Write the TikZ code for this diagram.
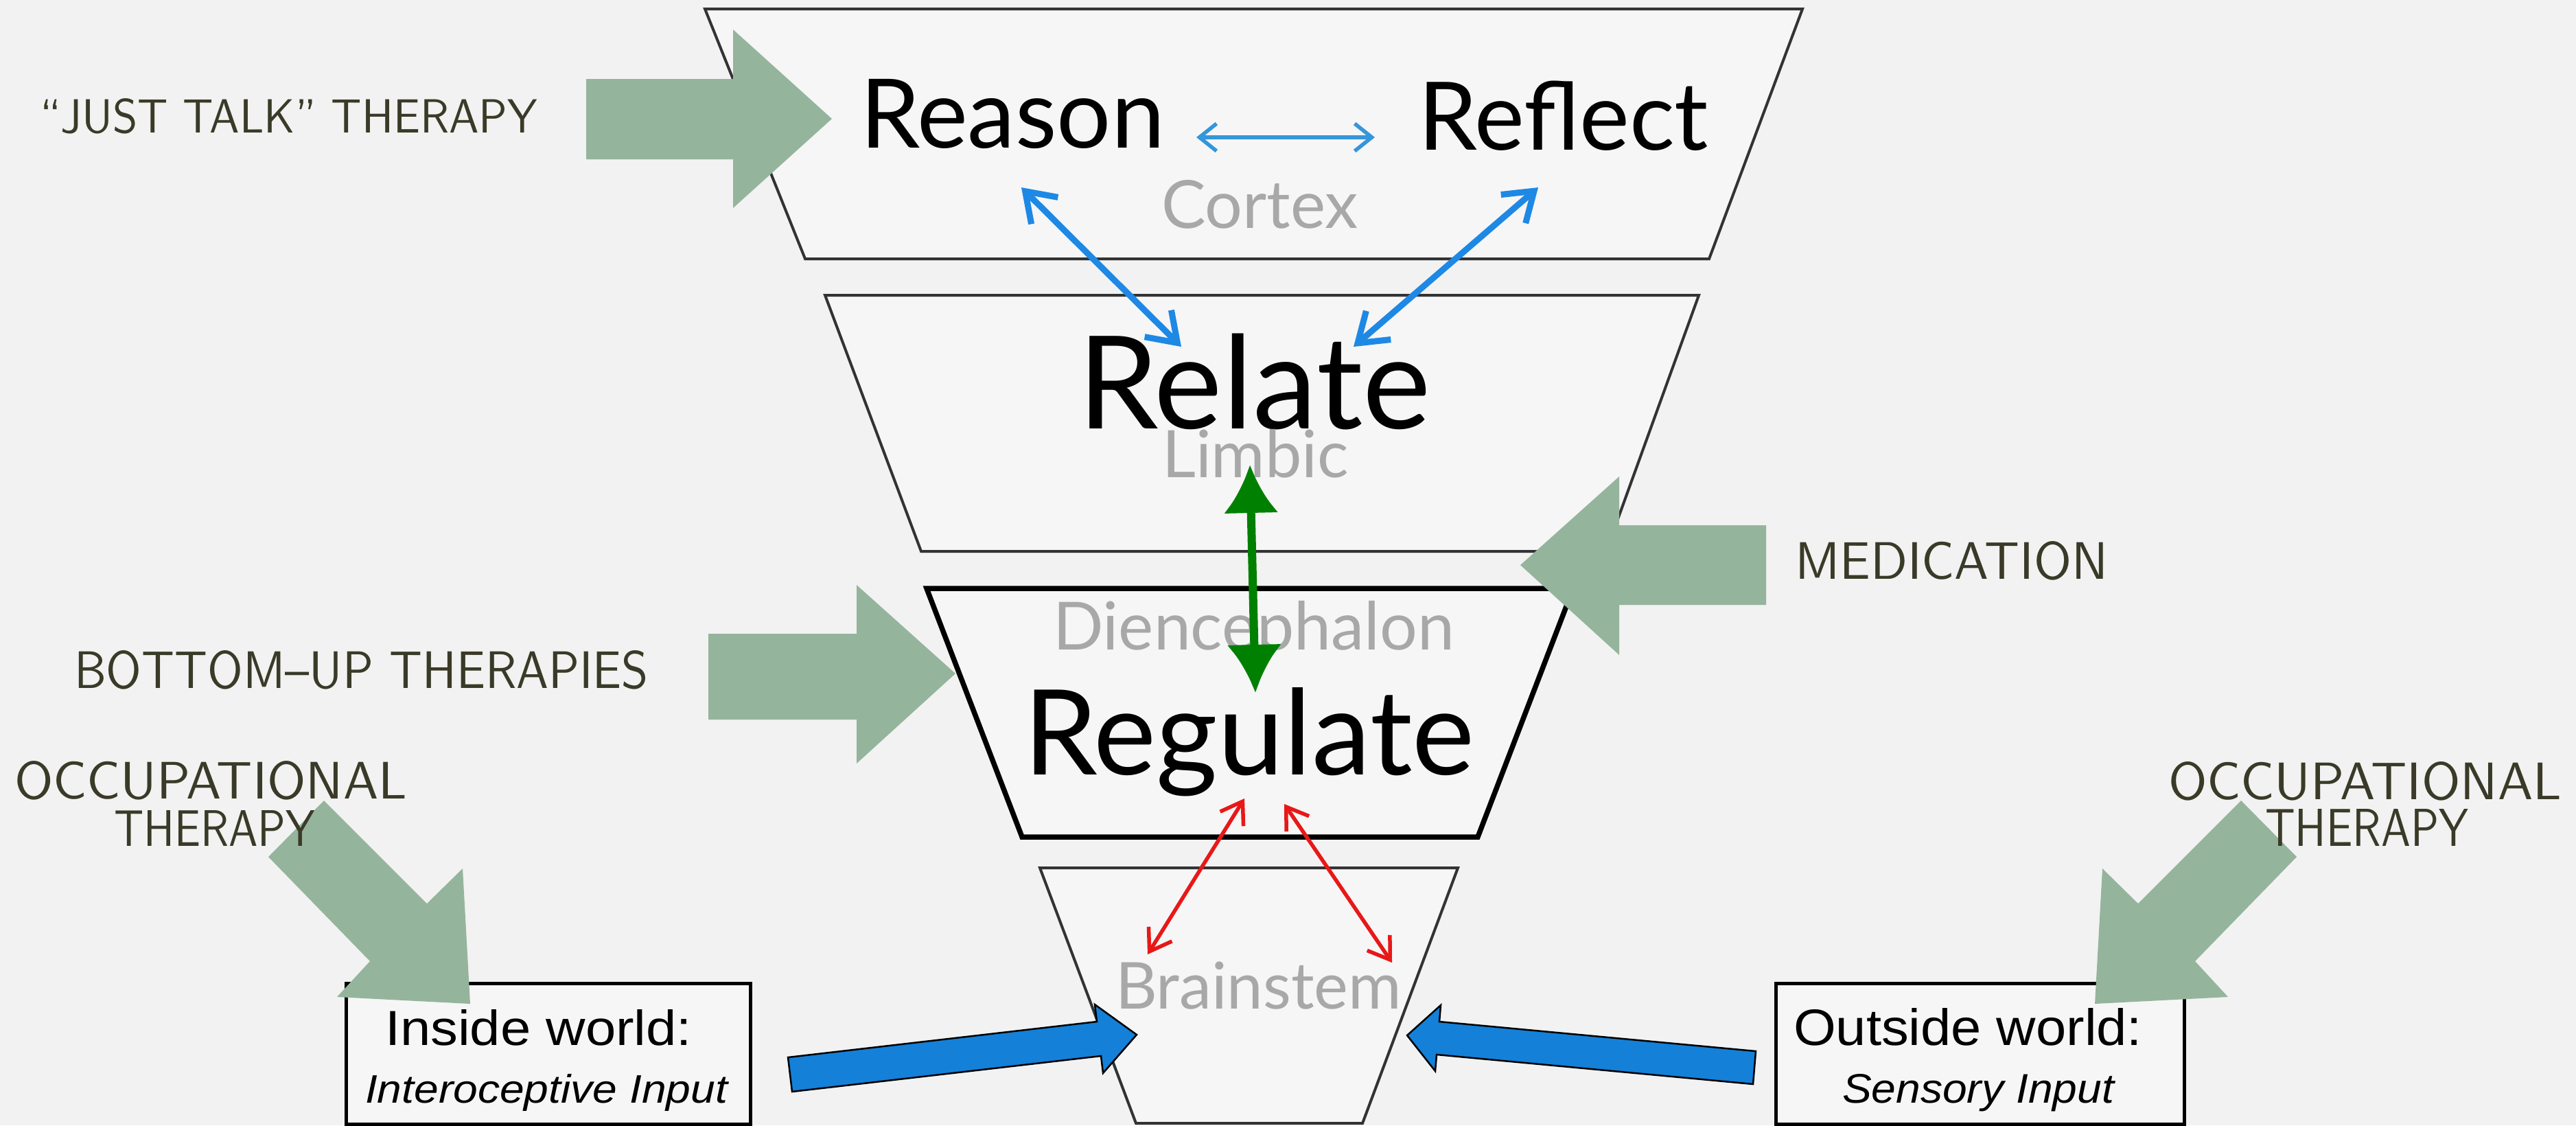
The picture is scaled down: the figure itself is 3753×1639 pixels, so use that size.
\documentclass[tikz,border=0pt]{standalone}
\usepackage{fontspec}
\usepackage{graphicx}
\setmainfont{Lato}
\newfontfamily\boxfont{Liberation Sans}
\usetikzlibrary{arrows.meta}

\definecolor{bgcol}{RGB}{242,242,242}
\definecolor{tierfill}{RGB}{246,246,246}
\definecolor{sage}{RGB}{149,180,156}
\definecolor{olive}{RGB}{58,58,40}
\definecolor{regiongrey}{RGB}{168,168,168}
\definecolor{linkblue}{RGB}{30,136,229}
\definecolor{lightlink}{RGB}{52,150,220}
\definecolor{inputblue}{RGB}{20,128,216}
\definecolor{limbgreen}{RGB}{0,128,0}
\definecolor{stemred}{RGB}{232,24,24}

% width, height, text of a thin capital label
\newcommand{\caplabel}[3]{\resizebox{#1}{#2}{\sffamily #3}}
% width, text of a large level word
\newcommand{\levelword}[2]{\resizebox{#1}{!}{#2}}
% width, height, text inside an input box
\newcommand{\boxtext}[3]{\resizebox{#1}{#2}{\boxfont #3}}

\begin{document}
\begin{tikzpicture}[x=0.2pt,y=-0.2pt,
  tier/.style={fill=tierfill,draw=black!80,line width=0.8pt,line join=miter},
  keytier/.style={fill=tierfill,draw=black,line width=1.5pt,line join=miter},
  txt/.style={anchor=base west,inner sep=0pt,outer sep=0pt},
  therapy/.style={fill=sage,draw=none},
  inputarrow/.style={fill=inputblue,draw=black,line width=0.5pt,line join=miter},
  worldbox/.style={fill=tierfill,draw=black,line width=0.9pt,anchor=north west,inner sep=0pt},
  cortexlink/.style={linkblue,line width=1.8pt,{Straight Barb[length=8pt,width=11pt]}-{Straight Barb[length=8pt,width=11pt]}},
  peerlink/.style={lightlink,line width=1.1pt,{Straight Barb[length=5pt,width=8pt]}-{Straight Barb[length=5pt,width=8pt]}},
  limbiclink/.style={limbgreen,line width=2.4pt,{Latex[length=14pt,width=16pt]}-{Latex[length=14pt,width=16pt]}},
  stemlink/.style={stemred,line width=1.1pt,{Straight Barb[length=6pt,width=8pt]}-{Straight Barb[length=6pt,width=8pt]}}]

% canvas
\fill[bgcol] (0,0) rectangle (3753,1639);
\useasboundingbox (0,0) rectangle (3753,1639);

% the four tiers of the funnel
\draw[tier] (1027,13) -- (2626,13) -- (2490,377) -- (1173,377) -- cycle;
\draw[tier] (1202,430) -- (2475,430) -- (2340,803) -- (1342,803) -- cycle;
\draw[keytier] (1350,857) -- (2292,857) -- (2153,1219) -- (1489,1219) -- cycle;
\draw[tier] (1515,1264) -- (2124,1264) -- (1985,1636) -- (1655,1636) -- cycle;

% level words and region names
\node[txt] (reason) at (1253,215) {\levelword{88.8pt}{Reason}};
\node[txt] (reflect) at (2066,218) {\levelword{84.6pt}{Reflect}};
\node[txt,text=regiongrey] (cortex) at (1692,332) {\levelword{57.4pt}{Cortex}};
\node[txt] (relate) at (1570,624) {\levelword{102.8pt}{Relate}};
\node[txt,text=regiongrey] (limbic) at (1693,695) {\levelword{54.4pt}{Limbic}};
\node[txt,text=regiongrey] (dienc) at (1534,946) {\levelword{117pt}{Diencephalon}};
\node[txt] (regulate) at (1491,1128) {\levelword{131.4pt}{Regulate}};
\node[txt,text=regiongrey] (brainstem) at (1625,1469) {\levelword{83.4pt}{Brainstem}};

% links between the levels
\coordinate (rsL) at (1743,200);
\coordinate (rsR) at (2003,200);
\coordinate (reasonFoot) at (1488,273);
\coordinate (reflectFoot) at (2241,273);
\coordinate (relateL) at (1721,505);
\coordinate (relateR) at (1972,505);
\coordinate (limbTop) at (1821,677);
\coordinate (regTop) at (1829,1009);
\coordinate (regFootL) at (1813,1163);
\coordinate (regFootR) at (1871,1171);
\coordinate (stemL) at (1672,1390);
\coordinate (stemR) at (2028,1402);

\draw[peerlink] (rsL) -- (rsR);
\draw[cortexlink] (reasonFoot) -- (relateL);
\draw[cortexlink] (reflectFoot) -- (relateR);
\draw[limbiclink] (limbTop) -- (regTop);
\draw[stemlink] (regFootL) -- (stemL);
\draw[stemlink] (regFootR) -- (stemR);

% input boxes
\node[worldbox,minimum width=117.8pt,minimum height=41pt] (inbox) at (502,1430) {};
\node[worldbox,minimum width=119pt,minimum height=41pt] (outbox) at (2585,1430) {};
\node[txt] (inside) at (561,1522) {\boxtext{89.4pt}{10.4pt}{Inside world:}};
\node[txt] (intero) at (532,1606) {\boxtext{105.6pt}{8.4pt}{\itshape Interoceptive Input}};
\node[txt] (outside) at (2613,1522) {\boxtext{101.6pt}{10.8pt}{Outside world:}};
\node[txt] (sensory) at (2684,1606) {\boxtext{79.2pt}{8.4pt}{\itshape Sensory Input}};

% sensory input arrows into the brainstem
\draw[inputarrow] (1148,1540) -- (1598,1488) -- (1595,1463) -- (1656,1507)
  -- (1607,1563) -- (1604,1538) -- (1154,1590) -- cycle;
\draw[inputarrow] (2558,1531) -- (2097,1488) -- (2099,1464) -- (2050,1508)
  -- (2091,1560) -- (2093,1536) -- (2554,1579) -- cycle;

% therapy arrows
\fill[therapy] (854,115) -- (1068,115) -- (1068,43) -- (1212,173)
  -- (1068,303) -- (1068,232) -- (854,232) -- cycle;
\fill[therapy] (1032,923) -- (1248,923) -- (1248,852) -- (1392,981)
  -- (1248,1112) -- (1248,1048) -- (1032,1048) -- cycle;
\fill[therapy] (2573,765) -- (2359,765) -- (2359,694) -- (2215,823)
  -- (2359,954) -- (2359,881) -- (2573,881) -- cycle;
\fill[therapy] (472,1166) -- (622,1316) -- (674,1265) -- (685,1462)
  -- (491,1452) -- (539,1400) -- (391,1248) -- cycle;
\fill[therapy] (3265,1166) -- (3115,1316) -- (3063,1265) -- (3052,1462)
  -- (3246,1452) -- (3198,1400) -- (3346,1248) -- cycle;

% therapy labels
\node[txt,text=olive] (talk) at (58,193) {\caplabel{145pt}{10pt}{“JUST TALK” THERAPY}};
\node[txt,text=olive] (bottomup) at (108,1002) {\caplabel{167.4pt}{11pt}{BOTTOM–UP THERAPIES}};
\node[txt,text=olive] (medication) at (2615,843) {\caplabel{91.2pt}{11pt}{MEDICATION}};
\node[txt,text=olive] (occL) at (21,1163) {\caplabel{114.4pt}{11pt}{OCCUPATIONAL}};
\node[txt,text=olive] (thL) at (166,1232) {\caplabel{58.6pt}{10.4pt}{THERAPY}};
\node[txt,text=olive] (occR) at (3159,1164) {\caplabel{114.6pt}{11pt}{OCCUPATIONAL}};
\node[txt,text=olive] (thR) at (3300,1232) {\caplabel{59.2pt}{10.8pt}{THERAPY}};
\end{tikzpicture}
\end{document}
